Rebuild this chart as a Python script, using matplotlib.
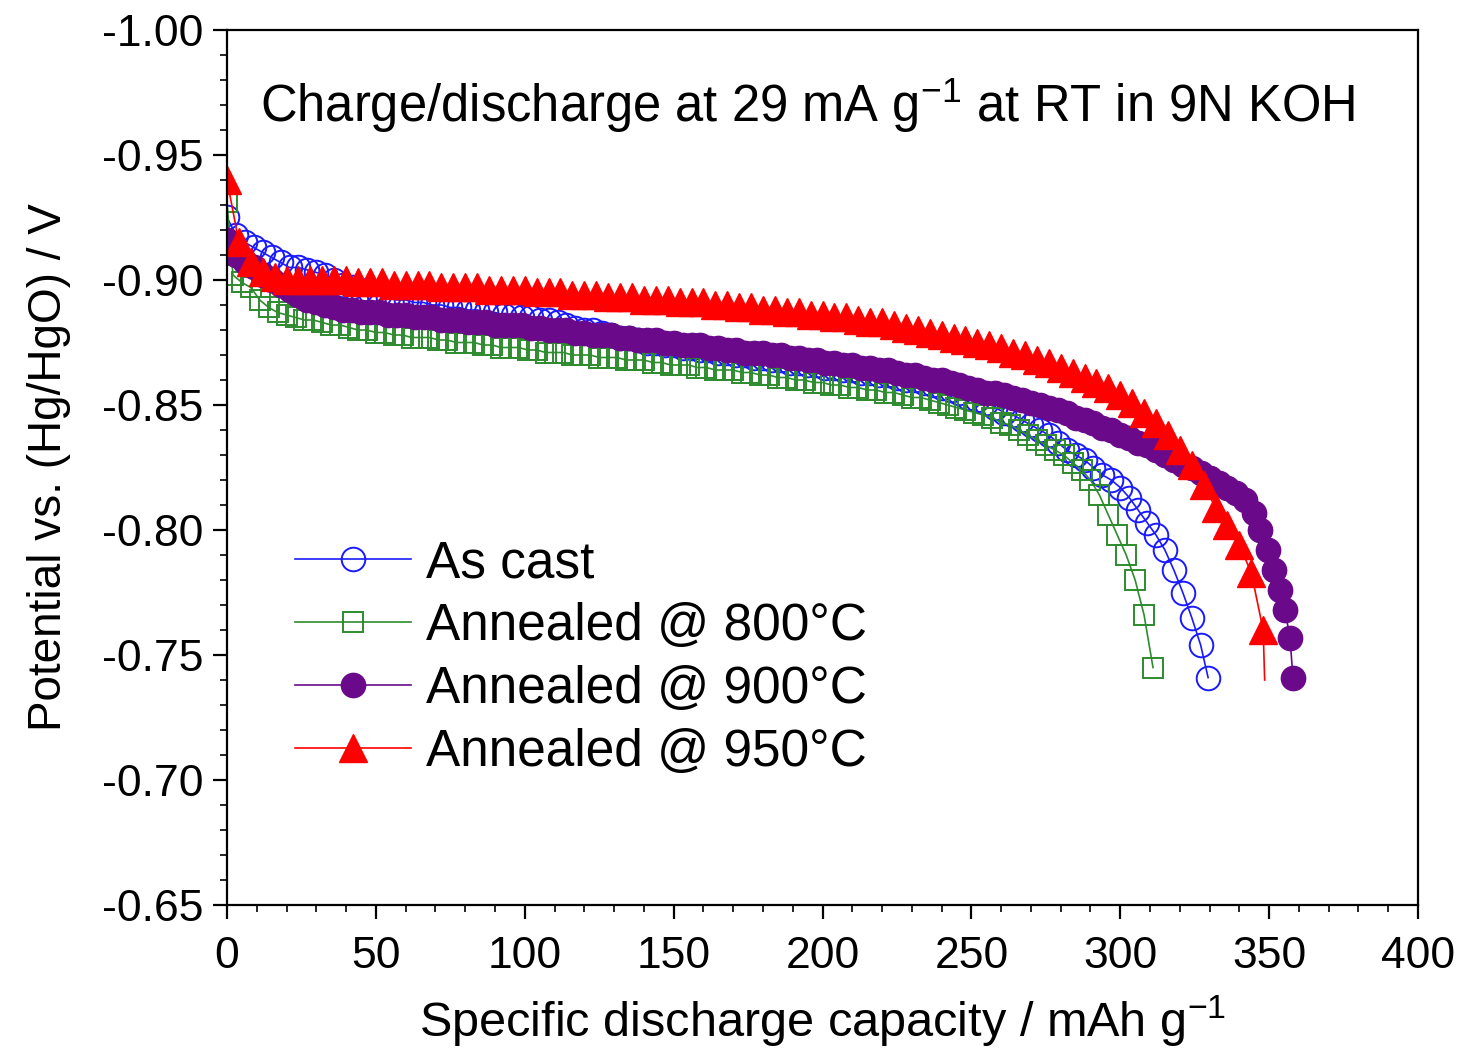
import numpy as np
import matplotlib.pyplot as plt
from matplotlib.ticker import MultipleLocator, FormatStrFormatter

plt.rcParams['axes.unicode_minus'] = False
plt.rcParams['mathtext.fontset'] = 'custom'
plt.rcParams['mathtext.rm'] = 'Liberation Sans'
plt.rcParams['mathtext.it'] = 'Liberation Sans'
FONT = ['Liberation Sans', 'DejaVu Sans']

# discharge curves, potential vs. Hg/HgO (V), capacity (mAh/g)
cast_x = list(np.arange(0, 328, 3)) + [329.5]
cast_y = [-0.925, -0.918, -0.915, -0.913, -0.911, -0.909, -0.907, -0.905, -0.905, -0.904,
          -0.903, -0.902, -0.900, -0.898, -0.897, -0.896, -0.895, -0.894, -0.893, -0.892,
          -0.892, -0.891, -0.891, -0.890, -0.890, -0.889, -0.889, -0.888, -0.888, -0.887,
          -0.887, -0.886, -0.886, -0.885, -0.885, -0.884, -0.884, -0.883, -0.882, -0.881,
          -0.880, -0.880, -0.879, -0.878, -0.877, -0.877, -0.876, -0.875, -0.875, -0.874,
          -0.874, -0.873, -0.873, -0.872, -0.872, -0.871, -0.871, -0.870, -0.870, -0.869,
          -0.869, -0.868, -0.868, -0.867, -0.867, -0.866, -0.866, -0.865, -0.865, -0.864,
          -0.864, -0.863, -0.863, -0.862, -0.862, -0.861, -0.860, -0.860, -0.859, -0.858,
          -0.857, -0.856, -0.855, -0.853, -0.852, -0.851, -0.849, -0.847, -0.846, -0.844,
          -0.842, -0.840, -0.838, -0.835, -0.832, -0.830, -0.828, -0.825, -0.822, -0.820,
          -0.817, -0.813, -0.808, -0.803, -0.798, -0.792, -0.784, -0.775, -0.765, -0.754,
          -0.741]

a800_x = [0, 2] + list(np.arange(5, 312, 3))
a800_y = [-0.931, -0.902, -0.899, -0.897, -0.892, -0.889, -0.887, -0.886, -0.885, -0.884,
          -0.884, -0.883, -0.882, -0.882, -0.881, -0.880, -0.880, -0.879, -0.879, -0.878,
          -0.878, -0.877, -0.877, -0.877, -0.876, -0.876, -0.875, -0.875, -0.875, -0.874,
          -0.874, -0.873, -0.873, -0.873, -0.872, -0.872, -0.871, -0.871, -0.871, -0.870,
          -0.870, -0.870, -0.869, -0.869, -0.869, -0.868, -0.868, -0.868, -0.867, -0.867,
          -0.866, -0.866, -0.866, -0.865, -0.865, -0.864, -0.864, -0.864, -0.863, -0.863,
          -0.862, -0.862, -0.861, -0.861, -0.860, -0.860, -0.859, -0.859, -0.858, -0.858,
          -0.857, -0.857, -0.856, -0.856, -0.855, -0.855, -0.854, -0.853, -0.853, -0.852,
          -0.851, -0.850, -0.849, -0.848, -0.847, -0.846, -0.845, -0.843, -0.842, -0.840,
          -0.838, -0.836, -0.834, -0.832, -0.830, -0.827, -0.824, -0.820, -0.814, -0.806,
          -0.798, -0.790, -0.780, -0.766, -0.745]

a900_x = list(np.arange(0, 346, 3)) + [347, 349.5, 351.5, 353.5, 355.3, 357, 358]
a900_y = [-0.916, -0.910, -0.907, -0.905, -0.902, -0.900, -0.898, -0.896, -0.894, -0.892,
          -0.891, -0.890, -0.889, -0.888, -0.888, -0.887, -0.887, -0.887, -0.886, -0.886,
          -0.886, -0.885, -0.885, -0.885, -0.884, -0.884, -0.884, -0.883, -0.883, -0.883,
          -0.882, -0.882, -0.882, -0.882, -0.881, -0.881, -0.880, -0.880, -0.880, -0.879,
          -0.879, -0.878, -0.878, -0.878, -0.877, -0.877, -0.876, -0.876, -0.876, -0.875,
          -0.875, -0.874, -0.874, -0.874, -0.873, -0.873, -0.872, -0.872, -0.871, -0.871,
          -0.871, -0.870, -0.870, -0.869, -0.869, -0.868, -0.868, -0.867, -0.867, -0.866,
          -0.866, -0.865, -0.865, -0.864, -0.864, -0.863, -0.862, -0.862, -0.861, -0.860,
          -0.860, -0.859, -0.858, -0.857, -0.856, -0.855, -0.855, -0.854, -0.853, -0.852,
          -0.851, -0.850, -0.849, -0.848, -0.847, -0.845, -0.844, -0.843, -0.841, -0.840,
          -0.838, -0.837, -0.835, -0.834, -0.832, -0.830, -0.828, -0.826, -0.825, -0.823,
          -0.821, -0.819, -0.817, -0.815, -0.812, -0.807,
          -0.800, -0.792, -0.784, -0.776, -0.768, -0.757, -0.741]

a950_x = list(np.arange(0, 349, 4)) + [348.5]
a950_y = [-0.940, -0.915, -0.907, -0.903, -0.901, -0.900, -0.900, -0.900, -0.900, -0.900,
          -0.900, -0.899, -0.899, -0.899, -0.898, -0.898, -0.898, -0.898, -0.897, -0.897,
          -0.897, -0.897, -0.896, -0.896, -0.896, -0.896, -0.895, -0.895, -0.895, -0.894,
          -0.894, -0.894, -0.893, -0.893, -0.893, -0.892, -0.892, -0.892, -0.891, -0.891,
          -0.891, -0.890, -0.890, -0.889, -0.889, -0.888, -0.888, -0.887, -0.887, -0.886,
          -0.886, -0.885, -0.885, -0.884, -0.883, -0.883, -0.882, -0.881, -0.880, -0.879,
          -0.878, -0.877, -0.876, -0.875, -0.874, -0.873, -0.871, -0.870, -0.868, -0.867,
          -0.865, -0.863, -0.861, -0.859, -0.857, -0.854, -0.851, -0.847, -0.843, -0.838,
          -0.832, -0.826, -0.818, -0.809, -0.802, -0.794, -0.783, -0.760,
          -0.740]

labels = ['As cast', 'Annealed @ 800°C', 'Annealed @ 900°C', 'Annealed @ 950°C']

fig = plt.figure(figsize=(14.59, 10.48), dpi=100)
ax = fig.add_axes([0.1556, 0.1364, 0.8163, 0.835])

ax.plot(cast_x, cast_y, '-o', color='#1a1aff', lw=1.2, ms=17, mfc='none', mew=1.4, label=labels[0])
ax.plot(a800_x, a800_y, '-s', color='#2e8b2e', lw=1.2, ms=15, mfc='none', mew=1.4, label=labels[1])
ax.plot(a900_x, a900_y, '-o', color='#6a0a8a', lw=1.2, ms=17.5, mew=1.0, label=labels[2])
ax.plot(a950_x, a950_y, '-^', color='#ff0000', lw=1.2, ms=20, mew=1.0,
        markevery=slice(0, len(a950_x) - 1), label=labels[3])

ax.set_xlim(0, 400)
ax.set_ylim(-0.65, -1.00)
ax.xaxis.set_major_locator(MultipleLocator(50))
ax.xaxis.set_minor_locator(MultipleLocator(10))
ax.yaxis.set_major_locator(MultipleLocator(0.05))
ax.yaxis.set_minor_locator(MultipleLocator(0.01))
ax.yaxis.set_major_formatter(FormatStrFormatter('%.2f'))
ax.tick_params(which='major', direction='out', length=10, width=1.6)
ax.tick_params(which='minor', direction='out', length=5, width=1.2)
ax.tick_params(axis='y', which='major', pad=7)
ax.tick_params(axis='x', which='major', pad=12)
for s in ax.spines.values():
    s.set_linewidth(1.6)

for t in ax.get_xticklabels():
    t.set_fontfamily(FONT)
    t.set_fontsize(32)
for t in ax.get_yticklabels():
    t.set_fontfamily(FONT)
    t.set_fontsize(32)

ax.set_xlabel('Specific discharge capacity / mAh g$^{-1}$', family=FONT, fontsize=35, labelpad=12)
ax.set_ylabel('Potential vs. (Hg/HgO) / V', family=FONT, fontsize=33, labelpad=22)

ax.text(0.028, 0.914, 'Charge/discharge at 29 mA g$^{-1}$ at RT in 9N KOH', transform=ax.transAxes,
        family=FONT, fontsize=36.5, ha='left', va='center')

ax.legend(loc='center left', bbox_to_anchor=(0.057, 0.282), frameon=False,
          prop={'family': FONT, 'size': 37}, handlelength=2.25, handletextpad=0.3,
          labelspacing=0.27, borderpad=0, borderaxespad=0)

fig.savefig('out.png', dpi=100)
